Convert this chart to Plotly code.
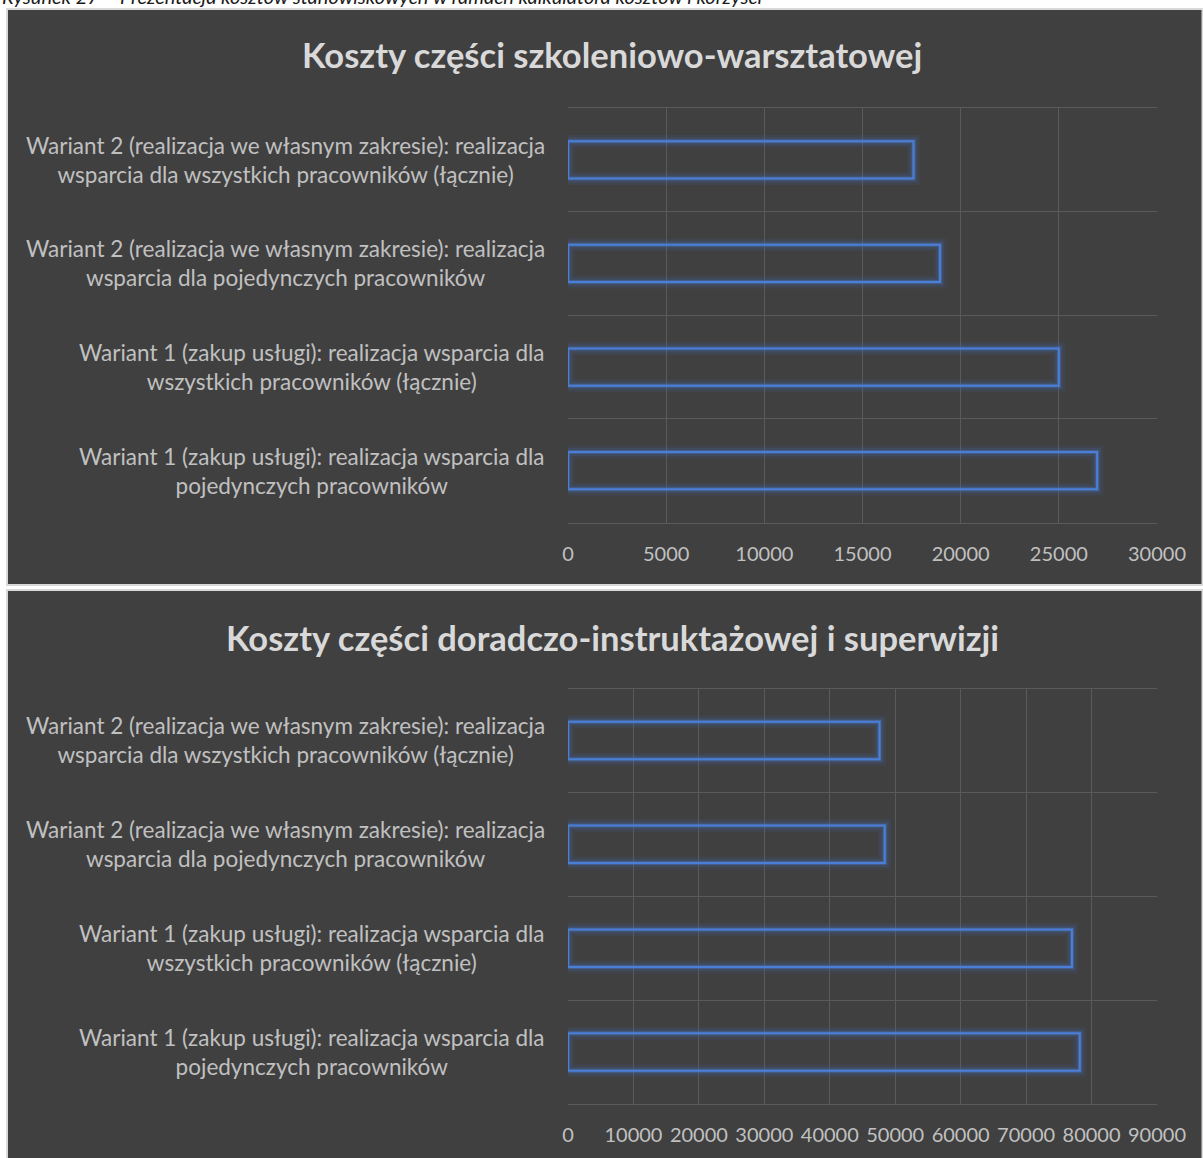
import plotly.graph_objects as go

# --- data -------------------------------------------------------------
categories = [
    "Wariant 1 (zakup usługi): realizacja wsparcia dla<br>pojedynczych pracowników",
    "Wariant 1 (zakup usługi): realizacja wsparcia dla<br>wszystkich pracowników (łącznie)",
    "Wariant 2 (realizacja we własnym zakresie): realizacja<br>wsparcia dla pojedynczych pracowników",
    "Wariant 2 (realizacja we własnym zakresie): realizacja<br>wsparcia dla wszystkich pracowników (łącznie)",
]
training_costs = [26950, 25000, 18950, 17600]
advisory_costs = [78200, 77000, 48400, 47600]

title_training = "Koszty części szkoleniowo-warsztatowej"
title_advisory = "Koszty części doradczo-instruktażowej i superwizji"
caption = ("Rysunek 27 – Prezentacja kosztów stanowiskowych w ramach "
           "kalkulatora kosztów i korzyści")

# --- geometry helpers (pixels -> paper) --------------------------------
W, H = 1203, 1158


def px(x):
    return x / W


def py(y):
    return 1 - y / H


PANEL_BG = "#404040"
PANEL_BORDER = "#d9d9d9"
GRID = "#5a5a5a"
TEXT = "#c0c0c0"
TITLE = "#d9d9d9"
BAR_LINE = "#4a7fd8"
FONT = "Lato"

fig = go.Figure()

panels = [
    dict(values=training_costs, xa="x", ya="y"),
    dict(values=advisory_costs, xa="x2", ya="y2"),
]

# Outline bars with a soft blue glow, built from stacked translucent strokes
glow_layers = [
    (13, "rgba(68,114,196,0.09)"),
    (8, "rgba(68,114,196,0.16)"),
    (4, "rgba(80,130,220,0.32)"),
    (2, BAR_LINE),
]
for p in panels:
    for width, color in glow_layers:
        fig.add_trace(go.Bar(
            x=p["values"], y=categories, orientation="h",
            xaxis=p["xa"], yaxis=p["ya"],
            marker=dict(color="rgba(0,0,0,0)",
                        line=dict(color=color, width=width)),
            hoverinfo="x+y", showlegend=False,
        ))

# --- axes -------------------------------------------------------------
x_dom = [px(568), px(1157)]
y1_dom = [py(522.5), py(108)]
y2_dom = [py(1104), py(688.5)]


def xaxis(rng, dtick, anchor):
    return dict(
        domain=x_dom, range=[0, rng], dtick=dtick, tick0=0,
        tickformat="d", automargin=False,
        showgrid=True, gridcolor=GRID, gridwidth=1,
        zeroline=True, zerolinecolor="rgba(0,0,0,0)",
        showline=True, mirror=True, linecolor=GRID, linewidth=1,
        ticks="", anchor=anchor,
        tickfont=dict(family=FONT, size=20, color=TEXT),
        ticklabelstandoff=13, fixedrange=True,
    )


def yaxis(dom, anchor):
    return dict(
        domain=dom, type="category", categoryorder="array",
        categoryarray=categories, tickson="boundaries", automargin=False,
        showgrid=True, gridcolor=GRID, gridwidth=1,
        showticklabels=False, ticks="", showline=False,
        zeroline=False, anchor=anchor, range=[-0.5, 3.5], fixedrange=True,
    )


shapes = []
for y0, y1 in [(9, 585), (590, 1170)]:
    shapes.append(dict(
        type="rect", xref="paper", yref="paper", layer="below",
        x0=px(7), x1=px(1202.5), y0=py(y1), y1=py(y0),
        fillcolor=PANEL_BG, line=dict(color=PANEL_BORDER, width=2),
    ))

annotations = [
    dict(text=f"<b>{title_training}</b>", xref="paper", yref="paper",
         x=px(612), y=py(55), xanchor="center", yanchor="middle",
         showarrow=False, font=dict(family=FONT, size=34.5, color=TITLE)),
    dict(text=f"<b>{title_advisory}</b>", xref="paper", yref="paper",
         x=px(612), y=py(637), xanchor="center", yanchor="middle",
         showarrow=False, font=dict(family=FONT, size=34.5, color=TITLE)),
    dict(text=f"<i>{caption}</i>", xref="paper", yref="paper",
         x=0, y=py(10), xanchor="left", yanchor="bottom",
         showarrow=False, font=dict(family=FONT, size=20, color="#1a1a1a")),
]

# Category labels: centred two-line blocks to the left of the bars
for ya in ["y", "y2"]:
    for cat in categories:
        annotations.append(dict(
            text=cat, xref="paper", yref=ya, x=px(547), y=cat,
            xanchor="right", yanchor="middle", align="center",
            showarrow=False, font=dict(family=FONT, size=22.5, color=TEXT),
        ))

fig.update_layout(
    width=W, height=H, margin=dict(l=0, r=0, t=0, b=0, autoexpand=False),
    paper_bgcolor="white", plot_bgcolor="rgba(0,0,0,0)",
    barmode="overlay", bargap=0.64,
    xaxis=xaxis(30000, 5000, "y"),
    yaxis=yaxis(y1_dom, "x"),
    xaxis2=xaxis(90000, 10000, "y2"),
    yaxis2=yaxis(y2_dom, "x2"),
    shapes=shapes, annotations=annotations,
    font=dict(family=FONT),
)

fig.write_html("out.html")
